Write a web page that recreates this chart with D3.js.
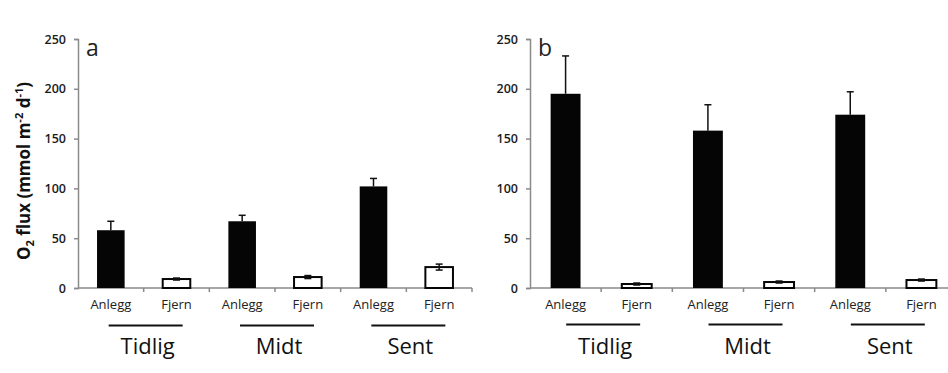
<!DOCTYPE html>
<html>
<head>
<meta charset="utf-8">
<script src="https://cdn.jsdelivr.net/npm/d3@7"></script>
<style>
  body { margin: 0; background: #fff; }
  svg { display: block; }
</style>
</head>
<body>
<div id="chart"></div>
<script>
const periods = ["Tidlig", "Midt", "Sent"];
const sites = ["Anlegg", "Fjern"];
const yTicks = [0, 50, 100, 150, 200, 250];

// panel a
const meanA = [58, 9, 67, 11, 102, 21];
const errA = [9, 1, 6, 1.5, 8, 3];
// panel b
const meanB = [195, 4, 158, 6, 174, 8];
const errB = [38, 1, 26, 1, 23, 1];

const W = 948, H = 373;
const svg = d3.select("#chart").append("svg").attr("width", W).attr("height", H);

const font = "'Open Sans', 'Liberation Sans', sans-serif";
const axisCol = "#8a8a8a";

function panel(opts) {
  const keys = [];
  periods.forEach(p => sites.forEach(s => keys.push(p + "|" + s)));
  const rows = keys.map((k, i) => ({ key: k, period: k.split("|")[0], site: k.split("|")[1], mean: opts.mean[i], err: opts.err[i] }));

  const x = d3.scaleBand().domain(keys).range([opts.x0, opts.x1]).padding(0);
  const y = d3.scaleLinear().domain([0, 250]).range([288, 39]);
  const bw = x.bandwidth() * 0.42;
  const g = svg.append("g");

  // y axis
  const yAxis = g.append("g").attr("transform", `translate(${opts.x0},0)`)
    .call(d3.axisLeft(y).tickValues(yTicks).tickSize(4).tickPadding(8));
  yAxis.select(".domain").attr("stroke", axisCol).attr("stroke-width", 1.5);
  yAxis.selectAll(".tick line").attr("stroke", axisCol).attr("stroke-width", 1.5);
  yAxis.selectAll(".tick text").attr("font-family", font).attr("font-size", 12.5)
    .attr("font-weight", 600).attr("fill", "#1a1a1a");

  // x axis line with ticks between categories
  g.append("line").attr("x1", opts.x0).attr("x2", opts.x1).attr("y1", y(0)).attr("y2", y(0))
    .attr("stroke", axisCol).attr("stroke-width", 1.5);
  g.selectAll(".xt").data(keys.slice(1).concat(["end"])).join("line")
    .attr("x1", (d, i) => i < keys.length - 1 ? x(d) : opts.x1)
    .attr("x2", (d, i) => i < keys.length - 1 ? x(d) : opts.x1)
    .attr("y1", y(0)).attr("y2", y(0) + 4)
    .attr("stroke", axisCol).attr("stroke-width", 1.5);

  // bars
  g.selectAll(".bar").data(rows).join("rect")
    .attr("x", d => x(d.key) + (x.bandwidth() - bw) / 2)
    .attr("width", bw)
    .attr("y", d => y(d.mean))
    .attr("height", d => y(0) - y(d.mean))
    .attr("fill", d => d.site === "Anlegg" ? "#050505" : "#fff")
    .attr("stroke", "#050505")
    .attr("stroke-width", d => d.site === "Anlegg" ? 0 : 2);

  // error bars (lower half only shows on white bars)
  const lo = d => d.site === "Anlegg" ? d.mean : d.mean - d.err;
  const eb = g.selectAll(".err").data(rows).join("g")
    .attr("transform", d => `translate(${x(d.key) + x.bandwidth() / 2},0)`);
  eb.append("line").attr("y1", d => y(lo(d))).attr("y2", d => y(d.mean + d.err))
    .attr("stroke", "#111").attr("stroke-width", 1.5);
  eb.append("line").attr("x1", -3.5).attr("x2", 3.5)
    .attr("y1", d => y(d.mean + d.err)).attr("y2", d => y(d.mean + d.err))
    .attr("stroke", "#111").attr("stroke-width", 1.5);
  eb.filter(d => d.site === "Fjern").append("line").attr("x1", -3.5).attr("x2", 3.5)
    .attr("y1", d => y(d.mean - d.err)).attr("y2", d => y(d.mean - d.err))
    .attr("stroke", "#111").attr("stroke-width", 1.5);

  // category labels
  g.selectAll(".cl").data(rows).join("text")
    .attr("x", d => x(d.key) + x.bandwidth() / 2)
    .attr("y", 309)
    .attr("text-anchor", "middle")
    .attr("font-family", font).attr("font-size", 13).attr("fill", "#222")
    .text(d => d.site);

  // period lines and labels
  periods.forEach(p => {
    const cx = x(p + "|Fjern") + opts.shift;
    g.append("line").attr("x1", cx - 37).attr("x2", cx + 37)
      .attr("y1", opts.lineY).attr("y2", opts.lineY)
      .attr("stroke", "#111").attr("stroke-width", 2.2);
    g.append("text").attr("x", cx + 2).attr("y", 354)
      .attr("text-anchor", "middle")
      .attr("font-family", font).attr("font-size", 22).attr("fill", "#111")
      .text(p);
  });

  // panel letter
  g.append("text").attr("x", opts.x0 + 8).attr("y", 56)
    .attr("font-family", font).attr("font-size", 23).attr("fill", "#222")
    .text(opts.letter);
}

panel({ x0: 78, x1: 472, mean: meanA, err: errA, letter: "a", lineY: 325.5, shift: 2 });
panel({ x0: 530, x1: 957, mean: meanB, err: errB, letter: "b", lineY: 324.5, shift: 2 });

// y axis title
const title = svg.append("text")
  .attr("transform", "translate(30,171) rotate(-90)")
  .attr("text-anchor", "middle")
  .attr("font-family", font).attr("font-size", 17).attr("font-weight", "bold").attr("fill", "#111");
title.append("tspan").text("O");
title.append("tspan").attr("font-size", 11).attr("dy", 4).text("2");
title.append("tspan").attr("dy", -4).text(" flux (mmol m");
title.append("tspan").attr("font-size", 11).attr("dy", -7).text("-2");
title.append("tspan").attr("dy", 7).text(" d");
title.append("tspan").attr("font-size", 11).attr("dy", -7).text("-1");
title.append("tspan").attr("dy", 7).text(")");
</script>
</body>
</html>
